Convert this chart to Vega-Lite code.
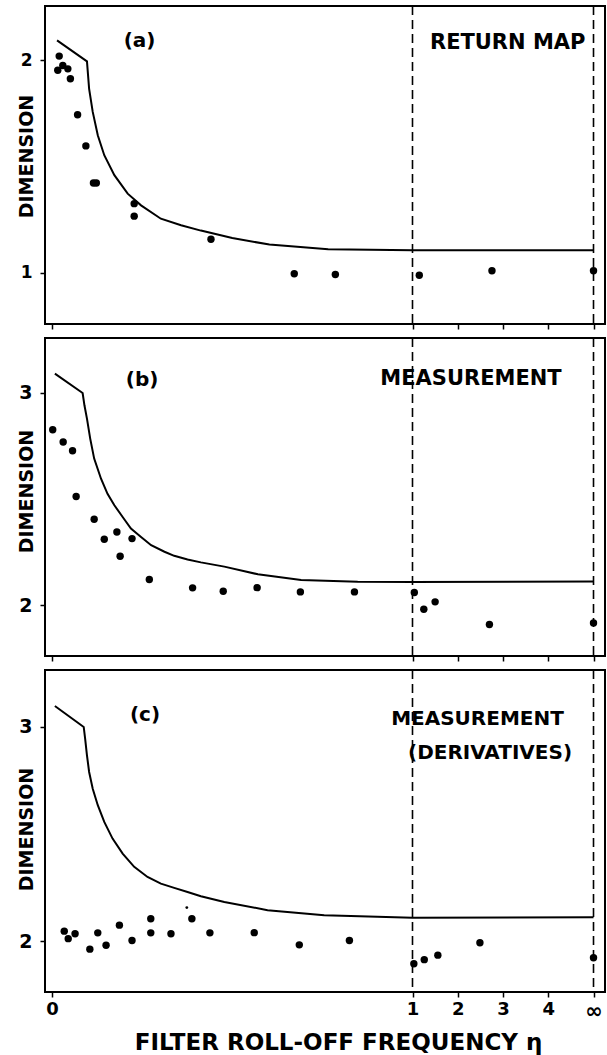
{
  "$schema": "https://vega.github.io/schema/vega-lite/v6.json",
  "padding": {"left": 16, "top": 4, "right": 2, "bottom": 2},
  "background": "white",
  "bounds": "flush",
  "spacing": 14,
  "config": {
    "view": {"stroke": "black", "strokeWidth": 2},
    "font": "DejaVu Sans",
    "axis": {
      "grid": false, "domain": false, "tickColor": "black", "tickWidth": 1.5, "tickSize": 5,
      "labelFont": "DejaVu Sans", "labelFontWeight": "bold", "labelColor": "black",
      "titleFont": "DejaVu Sans", "titleFontWeight": "bold", "titleColor": "black"
    }
  },
  "datasets": {
    "pts": [
      {"panel": "a", "kind": "dot", "eta": 0.020, "dim": 2.020},
      {"panel": "a", "kind": "dot", "eta": 0.016, "dim": 1.953},
      {"panel": "a", "kind": "dot", "eta": 0.030, "dim": 1.976},
      {"panel": "a", "kind": "dot", "eta": 0.044, "dim": 1.960},
      {"panel": "a", "kind": "dot", "eta": 0.051, "dim": 1.913},
      {"panel": "a", "kind": "dot", "eta": 0.071, "dim": 1.744},
      {"panel": "a", "kind": "dot", "eta": 0.094, "dim": 1.597},
      {"panel": "a", "kind": "dot", "eta": 0.115, "dim": 1.422},
      {"panel": "a", "kind": "dot", "eta": 0.123, "dim": 1.422},
      {"panel": "a", "kind": "dot", "eta": 0.228, "dim": 1.325},
      {"panel": "a", "kind": "dot", "eta": 0.228, "dim": 1.266},
      {"panel": "a", "kind": "dot", "eta": 0.441, "dim": 1.157},
      {"panel": "a", "kind": "dot", "eta": 0.672, "dim": 0.995},
      {"panel": "a", "kind": "dot", "eta": 0.786, "dim": 0.991},
      {"panel": "a", "kind": "dot", "eta": 1.15, "dim": 0.988},
      {"panel": "a", "kind": "dot", "eta": 2.756, "dim": 1.009},
      {"panel": "a", "kind": "dot", "eta": 5, "dim": 1.009},
      {"panel": "b", "kind": "dot", "eta": 0.002, "dim": 2.827},
      {"panel": "b", "kind": "dot", "eta": 0.031, "dim": 2.769},
      {"panel": "b", "kind": "dot", "eta": 0.057, "dim": 2.728},
      {"panel": "b", "kind": "dot", "eta": 0.067, "dim": 2.512},
      {"panel": "b", "kind": "dot", "eta": 0.117, "dim": 2.405},
      {"panel": "b", "kind": "dot", "eta": 0.145, "dim": 2.311},
      {"panel": "b", "kind": "dot", "eta": 0.180, "dim": 2.345},
      {"panel": "b", "kind": "dot", "eta": 0.189, "dim": 2.231},
      {"panel": "b", "kind": "dot", "eta": 0.222, "dim": 2.314},
      {"panel": "b", "kind": "dot", "eta": 0.270, "dim": 2.121},
      {"panel": "b", "kind": "dot", "eta": 0.390, "dim": 2.082},
      {"panel": "b", "kind": "dot", "eta": 0.475, "dim": 2.066},
      {"panel": "b", "kind": "dot", "eta": 0.569, "dim": 2.083},
      {"panel": "b", "kind": "dot", "eta": 0.689, "dim": 2.063},
      {"panel": "b", "kind": "dot", "eta": 0.839, "dim": 2.063},
      {"panel": "b", "kind": "dot", "eta": 1.04, "dim": 2.060},
      {"panel": "b", "kind": "dot", "eta": 1.25, "dim": 1.981},
      {"panel": "b", "kind": "dot", "eta": 1.50, "dim": 2.016},
      {"panel": "b", "kind": "dot", "eta": 2.70, "dim": 1.909},
      {"panel": "b", "kind": "dot", "eta": 5, "dim": 1.917},
      {"panel": "c", "kind": "dot", "eta": 0.034, "dim": 2.047},
      {"panel": "c", "kind": "dot", "eta": 0.045, "dim": 2.012},
      {"panel": "c", "kind": "dot", "eta": 0.064, "dim": 2.035},
      {"panel": "c", "kind": "dot", "eta": 0.105, "dim": 1.963},
      {"panel": "c", "kind": "dot", "eta": 0.127, "dim": 2.039},
      {"panel": "c", "kind": "dot", "eta": 0.150, "dim": 1.981},
      {"panel": "c", "kind": "dot", "eta": 0.187, "dim": 2.075},
      {"panel": "c", "kind": "dot", "eta": 0.222, "dim": 2.003},
      {"panel": "c", "kind": "dot", "eta": 0.274, "dim": 2.105},
      {"panel": "c", "kind": "dot", "eta": 0.274, "dim": 2.039},
      {"panel": "c", "kind": "dot", "eta": 0.330, "dim": 2.035},
      {"panel": "c", "kind": "dot", "eta": 0.388, "dim": 2.105},
      {"panel": "c", "kind": "dot", "eta": 0.438, "dim": 2.039},
      {"panel": "c", "kind": "dot", "eta": 0.561, "dim": 2.040},
      {"panel": "c", "kind": "dot", "eta": 0.686, "dim": 1.983},
      {"panel": "c", "kind": "dot", "eta": 0.825, "dim": 2.003},
      {"panel": "c", "kind": "dot", "eta": 1.03, "dim": 1.895},
      {"panel": "c", "kind": "dot", "eta": 1.26, "dim": 1.914},
      {"panel": "c", "kind": "dot", "eta": 1.56, "dim": 1.935},
      {"panel": "c", "kind": "dot", "eta": 2.49, "dim": 1.993},
      {"panel": "c", "kind": "dot", "eta": 5, "dim": 1.923},
      {"panel": "c", "kind": "speck", "eta": 0.374, "dim": 2.157}
    ],
    "curve": [
      {"panel": "a", "eta": 0.014, "dim": 2.094},
      {"panel": "a", "eta": 0.097, "dim": 1.995},
      {"panel": "a", "eta": 0.103, "dim": 1.866},
      {"panel": "a", "eta": 0.113, "dim": 1.757},
      {"panel": "a", "eta": 0.127, "dim": 1.647},
      {"panel": "a", "eta": 0.145, "dim": 1.553},
      {"panel": "a", "eta": 0.173, "dim": 1.459},
      {"panel": "a", "eta": 0.210, "dim": 1.372},
      {"panel": "a", "eta": 0.247, "dim": 1.317},
      {"panel": "a", "eta": 0.302, "dim": 1.254},
      {"panel": "a", "eta": 0.358, "dim": 1.223},
      {"panel": "a", "eta": 0.413, "dim": 1.198},
      {"panel": "a", "eta": 0.500, "dim": 1.163},
      {"panel": "a", "eta": 0.603, "dim": 1.132},
      {"panel": "a", "eta": 0.766, "dim": 1.110},
      {"panel": "a", "eta": 1.0, "dim": 1.105},
      {"panel": "a", "eta": 5.0, "dim": 1.105},
      {"panel": "b", "eta": 0.008, "dim": 3.091},
      {"panel": "b", "eta": 0.085, "dim": 3.000},
      {"panel": "b", "eta": 0.090, "dim": 2.942},
      {"panel": "b", "eta": 0.097, "dim": 2.879},
      {"panel": "b", "eta": 0.106, "dim": 2.785},
      {"panel": "b", "eta": 0.117, "dim": 2.691},
      {"panel": "b", "eta": 0.136, "dim": 2.596},
      {"panel": "b", "eta": 0.154, "dim": 2.525},
      {"panel": "b", "eta": 0.173, "dim": 2.471},
      {"panel": "b", "eta": 0.196, "dim": 2.416},
      {"panel": "b", "eta": 0.219, "dim": 2.361},
      {"panel": "b", "eta": 0.247, "dim": 2.322},
      {"panel": "b", "eta": 0.275, "dim": 2.283},
      {"panel": "b", "eta": 0.312, "dim": 2.252},
      {"panel": "b", "eta": 0.339, "dim": 2.233},
      {"panel": "b", "eta": 0.376, "dim": 2.216},
      {"panel": "b", "eta": 0.413, "dim": 2.202},
      {"panel": "b", "eta": 0.478, "dim": 2.182},
      {"panel": "b", "eta": 0.571, "dim": 2.146},
      {"panel": "b", "eta": 0.691, "dim": 2.119},
      {"panel": "b", "eta": 0.848, "dim": 2.111},
      {"panel": "b", "eta": 1.0, "dim": 2.110},
      {"panel": "b", "eta": 5.0, "dim": 2.112},
      {"panel": "c", "eta": 0.008, "dim": 3.098},
      {"panel": "c", "eta": 0.088, "dim": 3.000},
      {"panel": "c", "eta": 0.092, "dim": 2.945},
      {"panel": "c", "eta": 0.097, "dim": 2.868},
      {"panel": "c", "eta": 0.103, "dim": 2.790},
      {"panel": "c", "eta": 0.113, "dim": 2.712},
      {"panel": "c", "eta": 0.127, "dim": 2.635},
      {"panel": "c", "eta": 0.145, "dim": 2.557},
      {"panel": "c", "eta": 0.168, "dim": 2.479},
      {"panel": "c", "eta": 0.196, "dim": 2.409},
      {"panel": "c", "eta": 0.228, "dim": 2.347},
      {"panel": "c", "eta": 0.265, "dim": 2.300},
      {"panel": "c", "eta": 0.302, "dim": 2.269},
      {"panel": "c", "eta": 0.339, "dim": 2.249},
      {"panel": "c", "eta": 0.376, "dim": 2.230},
      {"panel": "c", "eta": 0.413, "dim": 2.210},
      {"panel": "c", "eta": 0.478, "dim": 2.183},
      {"panel": "c", "eta": 0.598, "dim": 2.145},
      {"panel": "c", "eta": 0.755, "dim": 2.121},
      {"panel": "c", "eta": 1.0, "dim": 2.109},
      {"panel": "c", "eta": 5.0, "dim": 2.112}
    ],
    "notes": [
      {"panel": "a", "kind": "tag", "eta": 0.243, "dim": 2.062, "text": "(a)"},
      {"panel": "a", "kind": "note", "eta": 3.104, "dim": 2.055, "text": "RETURN MAP"},
      {"panel": "b", "kind": "tag", "eta": 0.250, "dim": 3.035, "text": "(b)"},
      {"panel": "b", "kind": "note", "eta": 2.293, "dim": 3.038, "text": "MEASUREMENT"},
      {"panel": "c", "kind": "tag", "eta": 0.258, "dim": 3.026, "text": "(c)"},
      {"panel": "c", "kind": "note", "eta": 2.436, "dim": 3.009, "text": "MEASUREMENT"},
      {"panel": "c", "kind": "note", "eta": 2.713, "dim": 2.851, "text": "(DERIVATIVES)"}
    ],
    "guides": [{"eta": 1}, {"eta": 5}]
  },
  "vconcat": [
    {
      "width": 560, "height": 318,
      "encoding": {
        "x": {"field": "eta", "type": "quantitative",
          "scale": {"domain": [-0.0194, 1, 5.254], "range": [0, 367.5, 560], "nice": false, "zero": false},
          "axis": {"values": [0, 1, 2, 3, 4, 5], "labels": false, "title": null}},
        "y": {"field": "dim", "type": "quantitative",
          "scale": {"domain": [0.758, 2.256], "nice": false, "zero": false},
          "axis": {"values": [1, 2], "labelFontSize": 17, "labelPadding": 8, "title": "DIMENSION", "titleFontSize": 19,
            "titleAngle": -90, "titleX": -13, "titleY": 150, "titleAlign": "center", "titleBaseline": "alphabetic"}}
      },
      "layer": [
        {"data": {"name": "guides"}, "mark": {"type": "rule", "color": "black", "strokeWidth": 1.6, "strokeDash": [9, 5]},
         "encoding": {"y": null}},
        {"data": {"name": "curve"}, "transform": [{"filter": "datum.panel == 'a'"}],
         "mark": {"type": "line", "color": "black", "strokeWidth": 2}},
        {"data": {"name": "pts"}, "transform": [{"filter": "datum.panel == 'a'"}],
         "mark": {"type": "circle", "color": "black", "opacity": 1, "size": 55}},
        {"data": {"name": "notes"}, "transform": [{"filter": "datum.panel == 'a' && datum.kind == 'tag'"}],
         "mark": {"type": "text", "font": "DejaVu Sans", "fontWeight": "bold", "fontSize": 20, "baseline": "alphabetic", "align": "center", "color": "black"},
         "encoding": {"text": {"field": "text"}}},
        {"data": {"name": "notes"}, "transform": [{"filter": "datum.panel == 'a' && datum.kind == 'note'"}],
         "mark": {"type": "text", "font": "DejaVu Sans", "fontWeight": "bold", "fontSize": 21, "baseline": "alphabetic", "align": "center", "color": "black"},
         "encoding": {"text": {"field": "text"}}}
      ]
    },
    {
      "width": 560, "height": 318,
      "encoding": {
        "x": {"field": "eta", "type": "quantitative",
          "scale": {"domain": [-0.0194, 1, 5.254], "range": [0, 367.5, 560], "nice": false, "zero": false},
          "axis": {"values": [0, 1, 2, 3, 4, 5], "labels": false, "title": null}},
        "y": {"field": "dim", "type": "quantitative",
          "scale": {"domain": [1.761, 3.259], "nice": false, "zero": false},
          "axis": {"values": [2, 3], "labelFontSize": 19, "labelPadding": 8, "title": "DIMENSION", "titleFontSize": 19,
            "titleAngle": -90, "titleX": -13, "titleY": 153, "titleAlign": "center", "titleBaseline": "alphabetic"}}
      },
      "layer": [
        {"data": {"name": "guides"}, "mark": {"type": "rule", "color": "black", "strokeWidth": 1.6, "strokeDash": [9, 5]},
         "encoding": {"y": null}},
        {"data": {"name": "curve"}, "transform": [{"filter": "datum.panel == 'b'"}],
         "mark": {"type": "line", "color": "black", "strokeWidth": 2}},
        {"data": {"name": "pts"}, "transform": [{"filter": "datum.panel == 'b'"}],
         "mark": {"type": "circle", "color": "black", "opacity": 1, "size": 55}},
        {"data": {"name": "notes"}, "transform": [{"filter": "datum.panel == 'b' && datum.kind == 'tag'"}],
         "mark": {"type": "text", "font": "DejaVu Sans", "fontWeight": "bold", "fontSize": 20, "baseline": "alphabetic", "align": "center", "color": "black"},
         "encoding": {"text": {"field": "text"}}},
        {"data": {"name": "notes"}, "transform": [{"filter": "datum.panel == 'b' && datum.kind == 'note'"}],
         "mark": {"type": "text", "font": "DejaVu Sans", "fontWeight": "bold", "fontSize": 21, "baseline": "alphabetic", "align": "center", "color": "black"},
         "encoding": {"text": {"field": "text"}}}
      ]
    },
    {
      "width": 560, "height": 322,
      "encoding": {
        "x": {"field": "eta", "type": "quantitative",
          "scale": {"domain": [-0.0194, 1, 5.254], "range": [0, 367.5, 560], "nice": false, "zero": false},
          "axis": {"values": [0, 1, 2, 3, 4, 5], "labels": true,
            "labelFontSize": {"condition": {"test": "datum.value == 5", "value": 21}, "value": 18},
            "labelPadding": 3,
            "labelExpr": "datum.value == 5 ? '∞' : datum.label",
            "title": "FILTER ROLL-OFF FREQUENCY η", "titleFontSize": 23,
            "titleX": 293, "titleY": 57, "titleAlign": "center", "titleBaseline": "alphabetic"}},
        "y": {"field": "dim", "type": "quantitative",
          "scale": {"domain": [1.763, 3.266], "nice": false, "zero": false},
          "axis": {"values": [2, 3], "labelFontSize": 19, "labelPadding": 8, "title": "DIMENSION", "titleFontSize": 19,
            "titleAngle": -90, "titleX": -13, "titleY": 159, "titleAlign": "center", "titleBaseline": "alphabetic"}}
      },
      "layer": [
        {"data": {"name": "guides"}, "mark": {"type": "rule", "color": "black", "strokeWidth": 1.6, "strokeDash": [9, 5]},
         "encoding": {"y": null}},
        {"data": {"name": "curve"}, "transform": [{"filter": "datum.panel == 'c'"}],
         "mark": {"type": "line", "color": "black", "strokeWidth": 2}},
        {"data": {"name": "pts"}, "transform": [{"filter": "datum.panel == 'c' && datum.kind == 'dot'"}],
         "mark": {"type": "circle", "color": "black", "opacity": 1, "size": 55}},
        {"data": {"name": "pts"}, "transform": [{"filter": "datum.panel == 'c' && datum.kind == 'speck'"}],
         "mark": {"type": "circle", "color": "black", "opacity": 1, "size": 8}},
        {"data": {"name": "notes"}, "transform": [{"filter": "datum.panel == 'c' && datum.kind == 'tag'"}],
         "mark": {"type": "text", "font": "DejaVu Sans", "fontWeight": "bold", "fontSize": 20, "baseline": "alphabetic", "align": "center", "color": "black"},
         "encoding": {"text": {"field": "text"}}},
        {"data": {"name": "notes"}, "transform": [{"filter": "datum.panel == 'c' && datum.kind == 'note'"}],
         "mark": {"type": "text", "font": "DejaVu Sans", "fontWeight": "bold", "fontSize": 20, "baseline": "alphabetic", "align": "center", "color": "black"},
         "encoding": {"text": {"field": "text"}}}
      ]
    }
  ]
}
